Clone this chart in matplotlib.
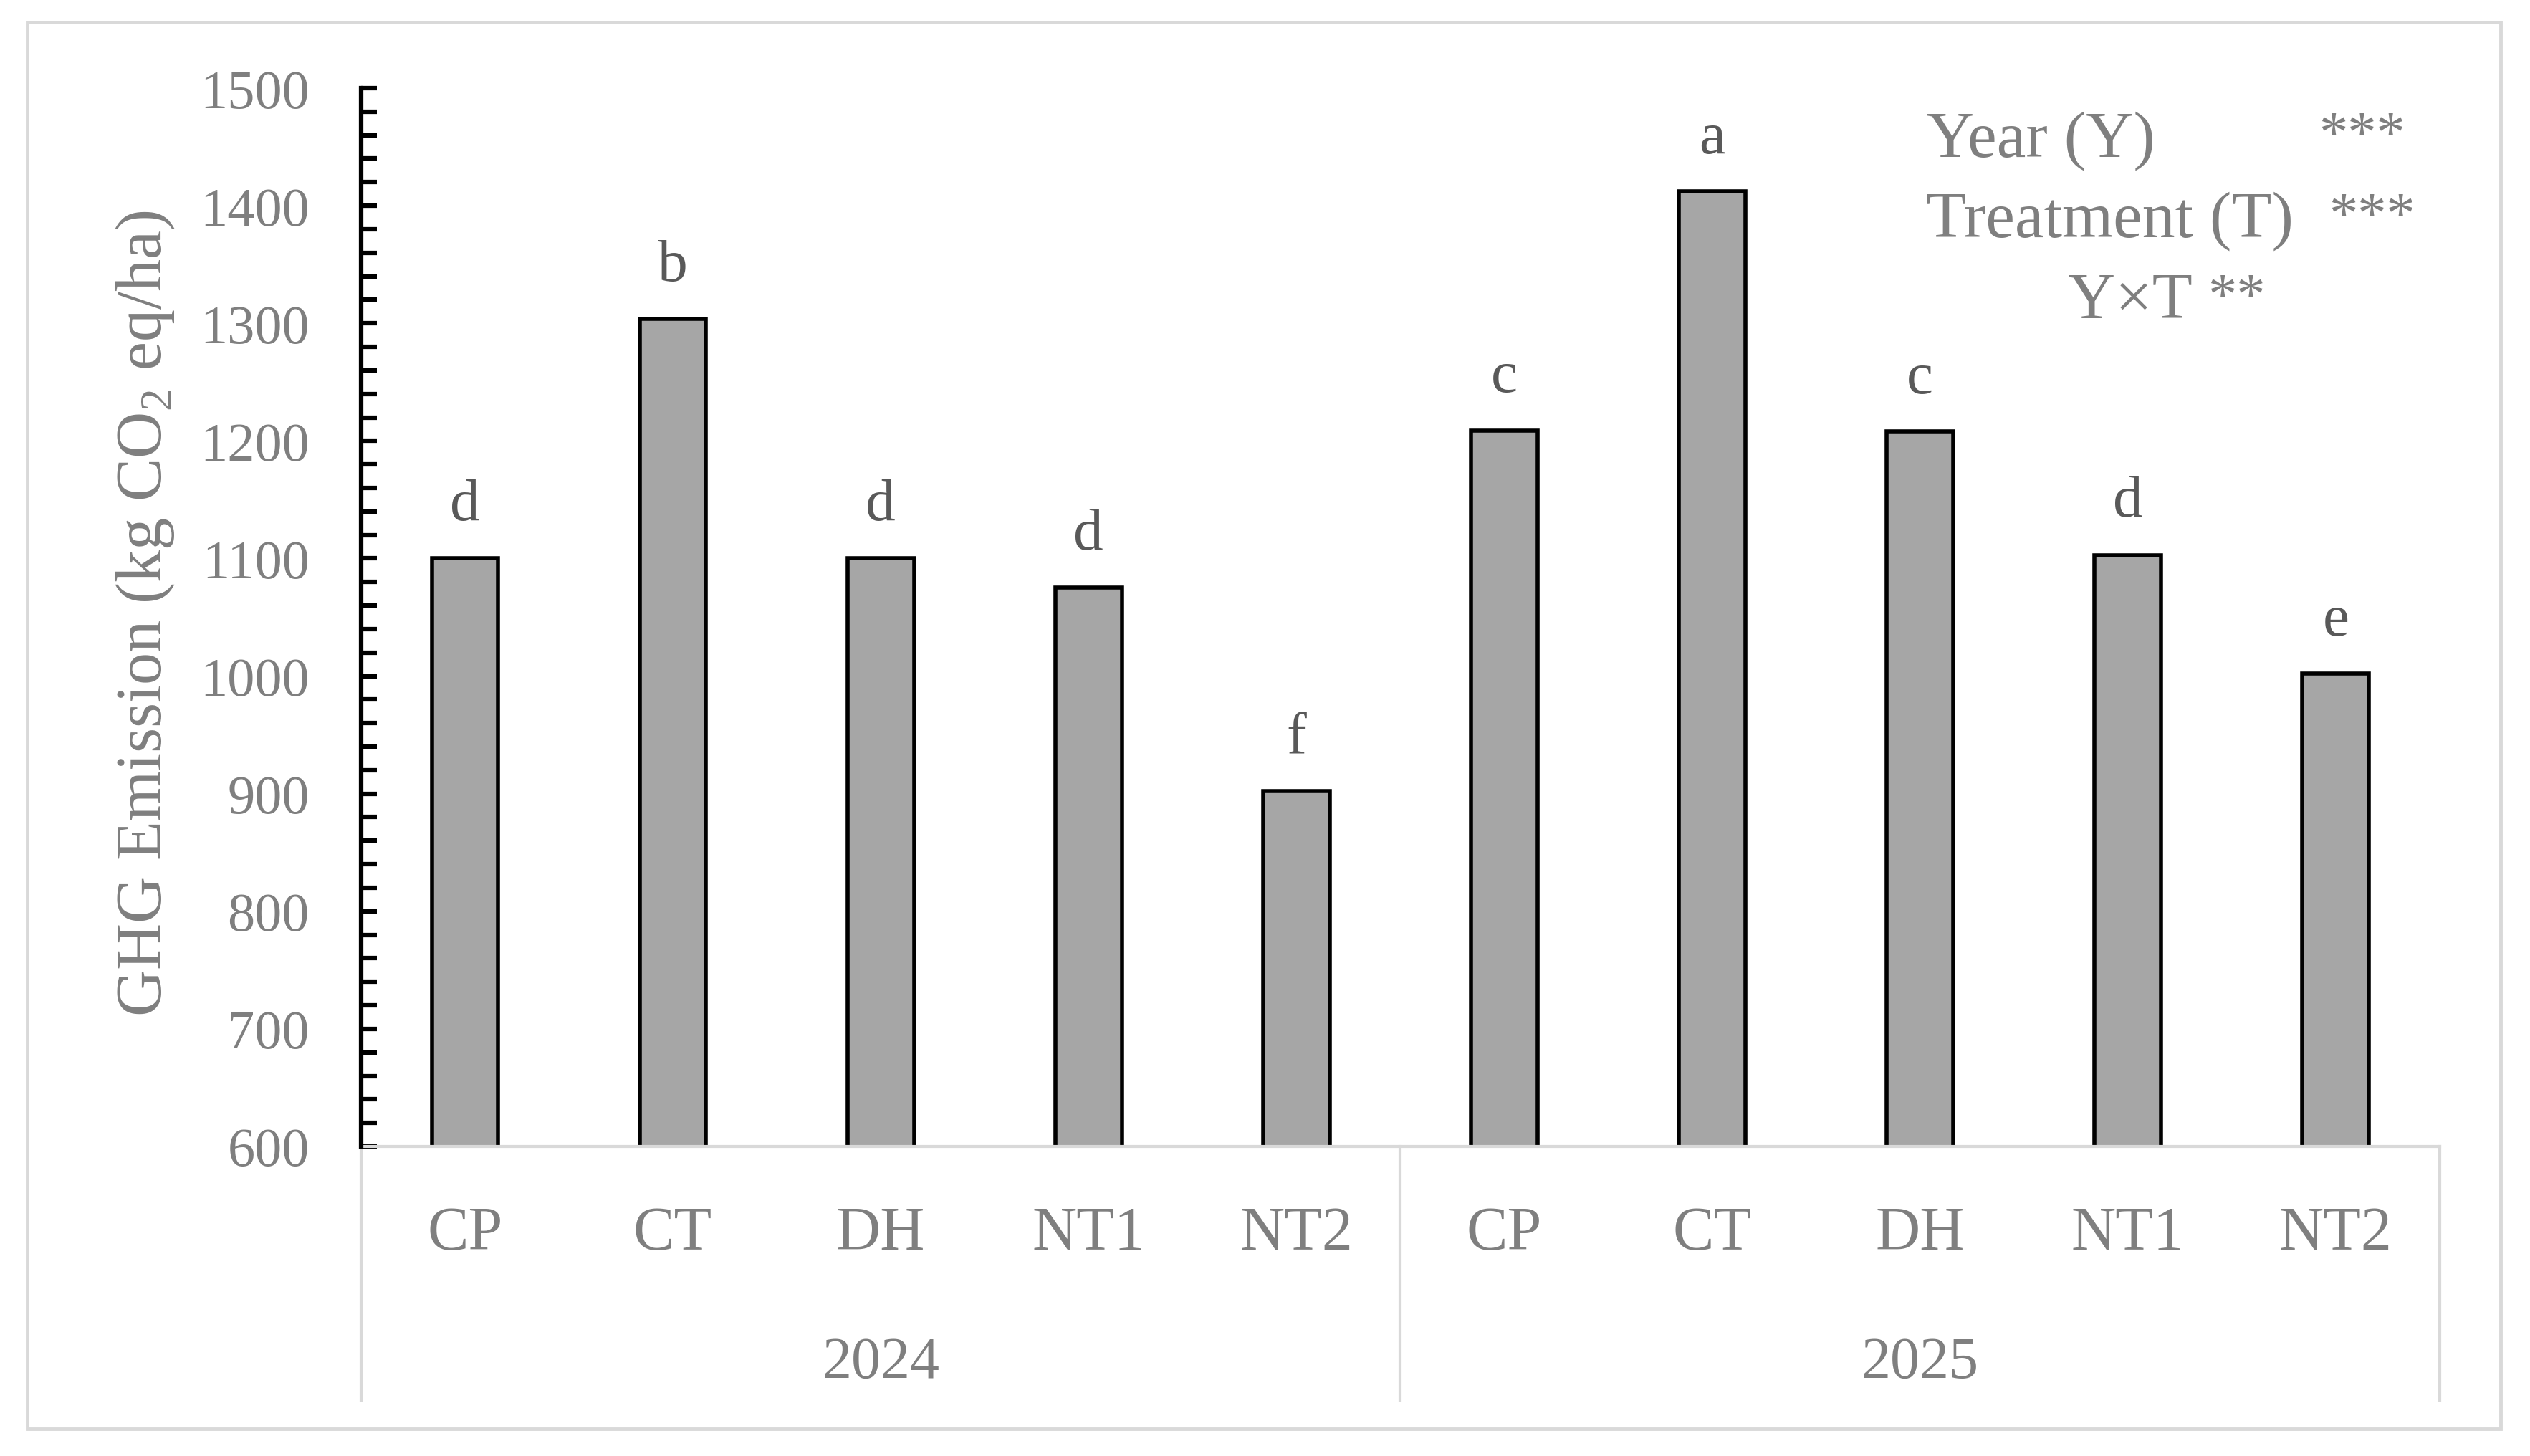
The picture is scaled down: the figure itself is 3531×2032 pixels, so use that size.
import matplotlib
matplotlib.use("Agg")
import matplotlib.pyplot as plt
from matplotlib.patches import Rectangle
from matplotlib.ticker import MultipleLocator

plt.rcParams['font.family'] = ['Liberation Serif', 'DejaVu Serif']
plt.rcParams['mathtext.fontset'] = 'custom'
plt.rcParams['mathtext.rm'] = 'Liberation Serif'

years = ["2024", "2025"]
treatments = ["CP", "CT", "DH", "NT1", "NT2"]
values_2024 = [1100, 1304, 1100, 1075, 902]
values_2025 = [1209, 1412, 1208, 1103, 1002]
letters_2024 = ["d", "b", "d", "d", "f"]
letters_2025 = ["c", "a", "c", "d", "e"]
stats_labels = ["Year (Y)", "Treatment (T)", "Y\u00d7T"]
stats_marks = ["***", "***", "**"]

values = values_2024 + values_2025
letters = letters_2024 + letters_2025
cats = treatments * 2

GRAY_TXT = "#7f7f7f"
LIGHT = "#d9d9d9"

fig = plt.figure(figsize=(35.31, 20.33), dpi=100)
ax = fig.add_axes([0.1427, 0.2125, 0.9643 - 0.1427, 0.939 - 0.2125])

xs = [i + 0.5 for i in range(len(values))]
ax.bar(xs, values, width=0.32, color="#a6a6a6", edgecolor="black", linewidth=4, zorder=3)

for x, v, l in zip(xs, values, letters):
    ax.text(x, v + 33, l, ha="center", va="baseline", fontsize=60, color="#595959")

ax.set_xlim(0, 10)
ax.set_ylim(600, 1500)
ax.yaxis.set_major_locator(MultipleLocator(100))
ax.yaxis.set_minor_locator(MultipleLocator(20))
ax.tick_params(axis="y", which="both", direction="in", length=16, width=4.5, color="black")
ax.tick_params(axis="y", which="major", labelsize=55, labelcolor=GRAY_TXT, pad=52)
ax.set_xticks([])
for s in ["top", "right", "bottom"]:
    ax.spines[s].set_visible(False)
ax.spines["left"].set_linewidth(4.5)
ax.spines["left"].set_color("black")
ax.spines["left"].set_zorder(5)

# category box
trans = ax.get_xaxis_transform()
box_bottom = -0.2397
ax.plot([0, 10], [0, 0], transform=trans, color=LIGHT, lw=3, clip_on=False, zorder=4)
for xv in [0, 5, 10]:
    ax.plot([xv, xv], [0, box_bottom], transform=trans, color=LIGHT, lw=3, clip_on=False)
for x, c in zip(xs, cats):
    ax.text(x, -0.0826, c, transform=trans, ha="center", va="center", fontsize=62, color=GRAY_TXT)
for i, y in enumerate(years):
    ax.text(2.5 + 5 * i, -0.2045, y, transform=trans, ha="center", va="center", fontsize=59, color=GRAY_TXT)

# y label
fig.text(0.0575, 0.579, "GHG Emission (kg CO$_\\mathrm{2}$ eq/ha)", rotation=90,
         ha="center", va="center", fontsize=65, color=GRAY_TXT)

# stats annotation
fig.text(0.8068, 0.8926, stats_labels[0], ha="center", va="baseline", fontsize=66, color=GRAY_TXT)
fig.text(0.9337, 0.8960, stats_marks[0], ha="center", va="baseline", fontsize=58, color=GRAY_TXT)
fig.text(0.8339, 0.8372, stats_labels[1], ha="center", va="baseline", fontsize=66, color=GRAY_TXT)
fig.text(0.9375, 0.8406, stats_marks[1], ha="center", va="baseline", fontsize=58, color=GRAY_TXT)
fig.text(0.8420, 0.7818, stats_labels[2], ha="center", va="baseline", fontsize=66, color=GRAY_TXT)
fig.text(0.8840, 0.7852, stats_marks[2], ha="center", va="baseline", fontsize=58, color=GRAY_TXT)

# outer border
fig.patches.append(Rectangle((0.0108, 0.0187), 0.9776, 0.9656, transform=fig.transFigure,
                             fill=False, edgecolor=LIGHT, linewidth=3.5))

fig.savefig("out.png", dpi=100, facecolor="white")
